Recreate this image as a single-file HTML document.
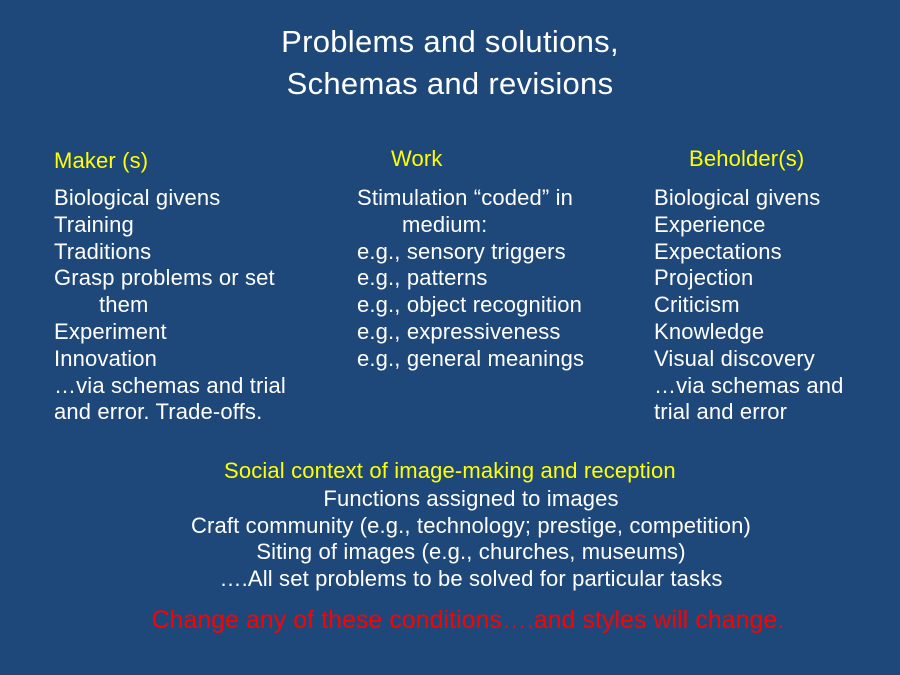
<!DOCTYPE html>
<html><head><meta charset="utf-8"><style>
body{margin:0;width:900px;height:675px;background:#1f487a;overflow:hidden;font-family:"Liberation Sans",sans-serif;color:#fff;position:relative}
.t{position:absolute;left:0;width:900px;text-align:center;font-size:31px;line-height:34px;letter-spacing:0.3px}
.c{position:absolute;font-size:22px;line-height:26.8px;white-space:nowrap;letter-spacing:0.15px}
.y{color:#ffff00}
.ctr{position:absolute;left:0;width:900px;text-align:center;font-size:22px;line-height:26.8px;letter-spacing:0.15px;white-space:nowrap}
.i{padding-left:45px}
</style></head><body>
<div class="t" style="top:25px">Problems and solutions,</div>
<div class="t" style="top:67px">Schemas and revisions</div>

<div class="c y" style="left:54px;top:148px">Maker (s)</div>
<div class="c y" style="left:391px;top:146px">Work</div>
<div class="c y" style="left:689px;top:146px">Beholder(s)</div>

<div class="c" style="left:54px;top:185px">Biological givens<br>Training<br>Traditions<br>Grasp problems or set<br><span class="i">them</span><br>Experiment<br>Innovation<br>…via schemas and trial<br>and error. Trade-offs.</div>

<div class="c" style="left:357px;top:185px">Stimulation “coded” in<br><span class="i">medium:</span><br>e.g., sensory triggers<br>e.g., patterns<br>e.g., object recognition<br>e.g., expressiveness<br>e.g., general meanings</div>

<div class="c" style="left:654px;top:185px">Biological givens<br>Experience<br>Expectations<br>Projection<br>Criticism<br>Knowledge<br>Visual discovery<br>…via schemas and<br>trial and error</div>

<div class="c y" style="left:224px;top:458px">Social context of image-making and reception</div>
<div class="ctr" style="top:486px;left:21px">Functions assigned to images</div>
<div class="ctr" style="top:513px;left:21px">Craft community (e.g., technology; prestige, competition)</div>
<div class="ctr" style="top:539px;left:21px">Siting of images (e.g., churches, museums)</div>
<div class="ctr" style="top:566px;left:21px">….All set problems to be solved for particular tasks</div>
<div class="ctr" style="top:608px;left:18px;color:#ff0000;font-size:24.7px">Change any of these conditions….and styles will change.</div>
</body></html>
